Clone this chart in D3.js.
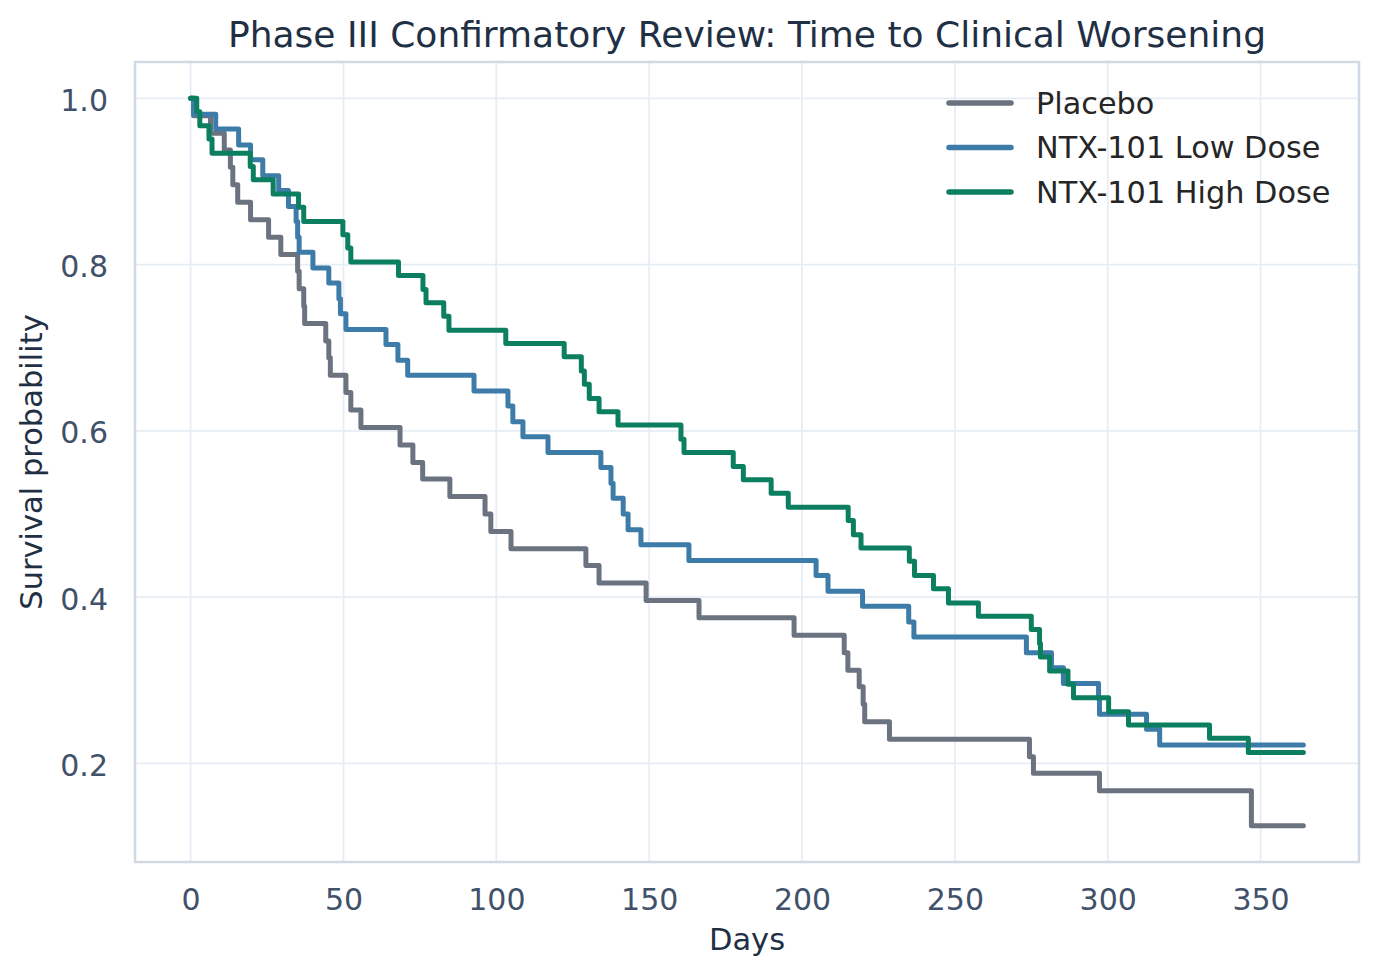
<!DOCTYPE html>
<html>
<head>
<meta charset="utf-8">
<script src="https://cdn.jsdelivr.net/npm/d3@7"></script>
<style>
  html, body { margin: 0; padding: 0; background: #ffffff; }
  svg { display: block; font-family: "DejaVu Sans", sans-serif; }
</style>
</head>
<body>
<svg id="chart" width="1378" height="977"></svg>
<script>
// ---- Data ----
const seriesNames = ["Placebo", "NTX-101 Low Dose", "NTX-101 High Dose"];
const seriesColors = ["#6b7280", "#3d7ca8", "#0b7f5f"];

const placeboDays = [0, 1, 6.5, 11, 13, 13.8, 15.4, 19.6, 25.5, 29.5, 35, 35.5, 37, 37.3, 44.2, 45.2, 45.7, 50.8, 52.4, 55.7, 68.5, 72.7, 75.9, 84.8, 96.3, 98.2, 104.8, 129.3, 133.6, 149, 166.3, 197.4, 213.8, 215, 218.7, 220, 220.5, 228.6, 274.4, 275.7, 297.3, 347];
const placeboSurv = [1.0, 0.979, 0.958, 0.938, 0.917, 0.896, 0.875, 0.854, 0.833, 0.812, 0.792, 0.771, 0.750, 0.729, 0.708, 0.688, 0.667, 0.646, 0.625, 0.604, 0.583, 0.562, 0.542, 0.521, 0.500, 0.479, 0.458, 0.438, 0.417, 0.396, 0.375, 0.354, 0.333, 0.312, 0.292, 0.271, 0.250, 0.229, 0.208, 0.188, 0.167, 0.125];

const lowDays = [0, 1, 8.2, 15.7, 19.6, 23.6, 28.8, 32, 34.5, 35, 35.5, 40, 45.2, 48.5, 49, 50.8, 63.9, 67.8, 71, 92.7, 103.8, 105.4, 108.7, 116.9, 134.2, 137.5, 138.2, 141.5, 143.1, 147.3, 163, 204.6, 208.5, 219.8, 234.9, 236.6, 273.4, 281.6, 285.5, 297, 297.3, 312.7, 317];
const lowSurv = [1.0, 0.981, 0.963, 0.944, 0.926, 0.907, 0.889, 0.870, 0.852, 0.833, 0.815, 0.796, 0.778, 0.759, 0.741, 0.722, 0.704, 0.685, 0.667, 0.648, 0.630, 0.611, 0.593, 0.574, 0.556, 0.537, 0.519, 0.500, 0.481, 0.463, 0.444, 0.426, 0.407, 0.389, 0.370, 0.352, 0.333, 0.315, 0.296, 0.278, 0.259, 0.241, 0.222];

const highDays = [0, 2, 3, 6, 7, 19.5, 20.5, 27, 35.3, 37, 49.8, 51.4, 52.4, 68, 76, 77, 82.8, 84.5, 103.1, 122.2, 127.8, 128.8, 130.4, 133.6, 139.8, 160.4, 161.4, 177.5, 180.8, 189.9, 195.5, 215.1, 216.8, 219.3, 235.1, 236.8, 243, 247.9, 257.7, 275, 277.7, 278, 281, 287, 288.8, 300.3, 306.8, 333.3, 346];
const highSurv = [1.0, 0.984, 0.967, 0.951, 0.934, 0.918, 0.902, 0.885, 0.869, 0.852, 0.836, 0.820, 0.803, 0.787, 0.770, 0.754, 0.738, 0.721, 0.705, 0.689, 0.672, 0.656, 0.639, 0.623, 0.607, 0.590, 0.574, 0.557, 0.541, 0.525, 0.508, 0.492, 0.475, 0.459, 0.443, 0.426, 0.410, 0.393, 0.377, 0.361, 0.344, 0.328, 0.311, 0.295, 0.279, 0.262, 0.246, 0.230, 0.213];

const followUpEnd = 364;
const xTicks = [0, 50, 100, 150, 200, 250, 300, 350];
const yTicks = [0.2, 0.4, 0.6, 0.8, 1.0];

const titleText = "Phase III Confirmatory Review: Time to Clinical Worsening";
const xLabel = "Days";
const yLabel = "Survival probability";

// ---- Build series ----
function buildSeries(days, surv) {
  const pts = days.map((d, i) => ({ t: d, s: surv[i] }));
  pts.push({ t: followUpEnd, s: surv[surv.length - 1] });
  return pts;
}
const series = [
  buildSeries(placeboDays, placeboSurv),
  buildSeries(lowDays, lowSurv),
  buildSeries(highDays, highSurv)
];

// ---- Layout ----
const svg = d3.select("#chart");
const plot = { left: 135, right: 1359, top: 62, bottom: 862 };

const xMinData = 0, xMaxData = followUpEnd;
const xPad = (xMaxData - xMinData) * 0.05;
const allS = placeboSurv.concat(lowSurv, highSurv);
const yMinData = d3.min(allS), yMaxData = d3.max(allS);
const yPad = (yMaxData - yMinData) * 0.05;

const x = d3.scaleLinear().domain([xMinData - xPad, xMaxData + xPad]).range([plot.left, plot.right]);
const y = d3.scaleLinear().domain([yMinData - yPad, yMaxData + yPad]).range([plot.bottom, plot.top]);

// Grid
const grid = svg.append("g");
grid.selectAll("line.vx").data(xTicks).enter().append("line")
  .attr("x1", d => x(d)).attr("x2", d => x(d))
  .attr("y1", plot.top).attr("y2", plot.bottom)
  .attr("stroke", "#e6edf5").attr("stroke-width", 1.8);
grid.selectAll("line.hy").data(yTicks).enter().append("line")
  .attr("x1", plot.left).attr("x2", plot.right)
  .attr("y1", d => y(d)).attr("y2", d => y(d))
  .attr("stroke", "#e6edf5").attr("stroke-width", 1.8);

// Axes (using d3 axes; tick marks hidden)
const xAxis = d3.axisBottom(x).tickValues(xTicks).tickFormat(d3.format("d")).tickSize(0).tickPadding(27);
const yAxis = d3.axisLeft(y).tickValues(yTicks).tickFormat(d3.format(".1f")).tickSize(0).tickPadding(27);

const gx = svg.append("g").attr("transform", `translate(0,${plot.bottom})`).call(xAxis);
const gy = svg.append("g").attr("transform", `translate(${plot.left},0)`).call(yAxis);
[gx, gy].forEach(g => {
  g.select(".domain").remove();
  g.selectAll("text").attr("fill", "#415169").style("font-size", "30px").style("font-family", "DejaVu Sans, sans-serif");
});
gx.selectAll("text").attr("dy", "0.71em");
gy.selectAll("text").attr("dy", "0.4em");

// Frame (spines)
svg.append("rect")
  .attr("x", plot.left).attr("y", plot.top)
  .attr("width", plot.right - plot.left).attr("height", plot.bottom - plot.top)
  .attr("fill", "none").attr("stroke", "#d1d9e4").attr("stroke-width", 2.5);

// Clip
svg.append("clipPath").attr("id", "clip").append("rect")
  .attr("x", plot.left).attr("y", plot.top)
  .attr("width", plot.right - plot.left).attr("height", plot.bottom - plot.top);

// Lines
const line = d3.line().x(d => x(d.t)).y(d => y(d.s)).curve(d3.curveStepAfter);
const lines = svg.append("g").attr("clip-path", "url(#clip)");
series.forEach((pts, i) => {
  lines.append("path")
    .datum(pts)
    .attr("d", line)
    .attr("fill", "none")
    .attr("stroke", seriesColors[i])
    .attr("stroke-width", 5)
    .attr("stroke-linejoin", "round")
    .attr("stroke-linecap", "round");
});

// Title
svg.append("text")
  .attr("x", (plot.left + plot.right) / 2).attr("y", 47)
  .attr("text-anchor", "middle")
  .attr("fill", "#1f2f44")
  .style("font-size", "36px")
  .text(titleText);

// Axis labels
svg.append("text")
  .attr("x", (plot.left + plot.right) / 2).attr("y", 950)
  .attr("text-anchor", "middle")
  .attr("fill", "#1f2f44")
  .style("font-size", "30.5px")
  .text(xLabel);

svg.append("text")
  .attr("transform", `translate(42,${(plot.top + plot.bottom) / 2}) rotate(-90)`)
  .attr("text-anchor", "middle")
  .attr("fill", "#1f2f44")
  .style("font-size", "30.5px")
  .text(yLabel);

// Legend
const legend = svg.append("g");
const legY0 = 103, legDy = 44.5;
seriesNames.forEach((name, i) => {
  const ly = legY0 + i * legDy;
  legend.append("line")
    .attr("x1", 949).attr("x2", 1011)
    .attr("y1", ly).attr("y2", ly)
    .attr("stroke", seriesColors[i]).attr("stroke-width", 5.5)
    .attr("stroke-linecap", "round");
  legend.append("text")
    .attr("x", 1036).attr("y", ly)
    .attr("dy", "0.35em")
    .attr("fill", "#262626")
    .style("font-size", "30.3px")
    .text(name);
});
</script>
</body>
</html>
